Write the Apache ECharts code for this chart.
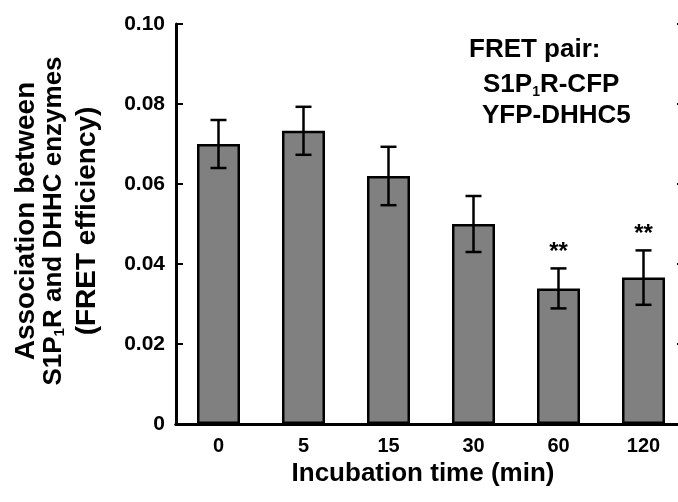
<!DOCTYPE html>
<html>
<head>
<meta charset="utf-8">
<script src="https://cdn.jsdelivr.net/npm/echarts@6/dist/echarts.min.js"></script>
<style>
html,body{margin:0;padding:0;background:#fff;}
#c{width:678px;height:502px;}
</style>
</head>
<body>
<div id="c"></div>
<script>
// Data
var categories = ['0', '5', '15', '30', '60', '120'];
var fretMean = [0.0700, 0.0733, 0.0620, 0.0500, 0.0339, 0.0366];
var fretErr = [0.0060, 0.0060, 0.0073, 0.0070, 0.0050, 0.0068];
var significance = ['', '', '', '', '**', '**'];
var yTicks = { min: 0, max: 0.10, interval: 0.02 };

var FONT = "'Liberation Sans', Arial, Helvetica, sans-serif";
var chart = echarts.init(document.getElementById('c'), null, { renderer: 'canvas' });

var errData = categories.map(function (c, i) { return [i, fretMean[i], fretErr[i]]; });

var option = {
  backgroundColor: '#fff',
  animation: false,
  grid: { left: 176, top: 24, width: 510, height: 400, containLabel: false, outerBoundsMode: 'none' },
  xAxis: [{
    type: 'category',
    data: categories,
    position: 'bottom',
    axisLine: { lineStyle: { color: '#000', width: 3 } },
    axisTick: { show: false },
    axisLabel: { color: '#000', fontFamily: FONT, fontWeight: 'bold', fontSize: 20, margin: 12 },
    name: 'Incubation time (min)',
    nameLocation: 'middle',
    nameGap: 33,
    nameTextStyle: { color: '#000', fontFamily: FONT, fontWeight: 'bold', fontSize: 26, verticalAlign: 'top', padding: [0, 16, 0, 0] }
  }, {
    type: 'category',
    data: categories,
    position: 'top',
    axisLine: { lineStyle: { color: '#000', width: 3 } },
    axisTick: { show: false },
    axisLabel: { show: false }
  }],
  yAxis: [{
    type: 'value',
    min: yTicks.min, max: yTicks.max, interval: yTicks.interval,
    position: 'left',
    splitLine: { show: false },
    axisLine: { show: true, lineStyle: { color: '#000', width: 3 } },
    axisTick: { show: true, inside: true, length: 7, lineStyle: { color: '#000', width: 2 } },
    axisLabel: {
      color: '#000', fontFamily: FONT, fontWeight: 'bold', fontSize: 21, margin: 11,
      formatter: function (v) { return v === 0 ? '0' : v.toFixed(2); }
    },
    name: '{a|Association between}\n{b|S1P}{s|1}{b|R and DHHC enzymes}\n{c|(FRET efficiency)}',
    nameLocation: 'middle',
    nameRotate: 90,
    nameGap: 68,
    nameTextStyle: {
      color: '#000', fontFamily: FONT, fontWeight: 'bold', fontSize: 26, align: 'center',
      padding: [0, 0, 0, 6],
      rich: {
        a: { fontFamily: FONT, fontWeight: 'bold', fontSize: 28, lineHeight: 27, color: '#000' },
        b: { fontFamily: FONT, fontWeight: 'bold', fontSize: 26, lineHeight: 27, color: '#000' },
        s: { fontFamily: FONT, fontWeight: 'bold', fontSize: 15, lineHeight: 27, color: '#000', verticalAlign: 'bottom', padding: [12, 0, 0, 0] },
        c: { fontFamily: FONT, fontWeight: 'bold', fontSize: 28, lineHeight: 41, color: '#000' }
      }
    }
  }, {
    type: 'value',
    min: yTicks.min, max: yTicks.max, interval: yTicks.interval,
    position: 'right',
    splitLine: { show: false },
    axisLine: { show: true, lineStyle: { color: '#000', width: 3 } },
    axisTick: { show: true, inside: true, length: 9, lineStyle: { color: '#000', width: 2 } },
    axisLabel: { show: false }
  }],
  series: [{
    type: 'bar',
    data: fretMean,
    barWidth: 43,
    itemStyle: { color: '#808080', borderColor: '#000', borderWidth: 2.5 },
    z: 2
  }, {
    type: 'custom',
    data: errData,
    z: 3,
    renderItem: function (params, api) {
      var x = api.value(0), m = api.value(1), e = api.value(2);
      var hi = api.coord([x, m + e]);
      var lo = api.coord([x, m - e]);
      var cap = 8;
      var ls = { stroke: '#000', lineWidth: 2.5 };
      var children = [
        { type: 'line', shape: { x1: hi[0], y1: hi[1], x2: lo[0], y2: lo[1] }, style: ls },
        { type: 'line', shape: { x1: hi[0] - cap, y1: hi[1], x2: hi[0] + cap, y2: hi[1] }, style: ls },
        { type: 'line', shape: { x1: lo[0] - cap, y1: lo[1], x2: lo[0] + cap, y2: lo[1] }, style: ls }
      ];
      var sig = significance[params.dataIndex];
      if (sig) {
        children.push({
          type: 'text',
          style: { text: sig, x: hi[0], y: hi[1] - 4, align: 'center', verticalAlign: 'bottom',
                   font: 'bold 24px ' + FONT, fill: '#000' }
        });
      }
      return { type: 'group', children: children };
    }
  }],
  graphic: [{
    type: 'text', left: 469, top: 37,
    style: { text: 'FRET pair:', font: 'bold 26px ' + FONT, fill: '#000' }
  }, {
    type: 'text', left: 483, top: 71,
    style: {
      text: '{m|S1P}{s|1}{m|R-CFP}', fill: '#000',
      rich: {
        m: { font: 'bold 26px ' + FONT, fill: '#000', lineHeight: 29 },
        s: { font: 'bold 14px ' + FONT, fill: '#000', lineHeight: 29, verticalAlign: 'bottom', padding: [14, 0, 0, 0] }
      }
    }
  }, {
    type: 'text', left: 482, top: 103,
    style: { text: 'YFP-DHHC5', font: 'bold 26px ' + FONT, fill: '#000' }
  }]
};
chart.setOption(option);
</script>
</body>
</html>
